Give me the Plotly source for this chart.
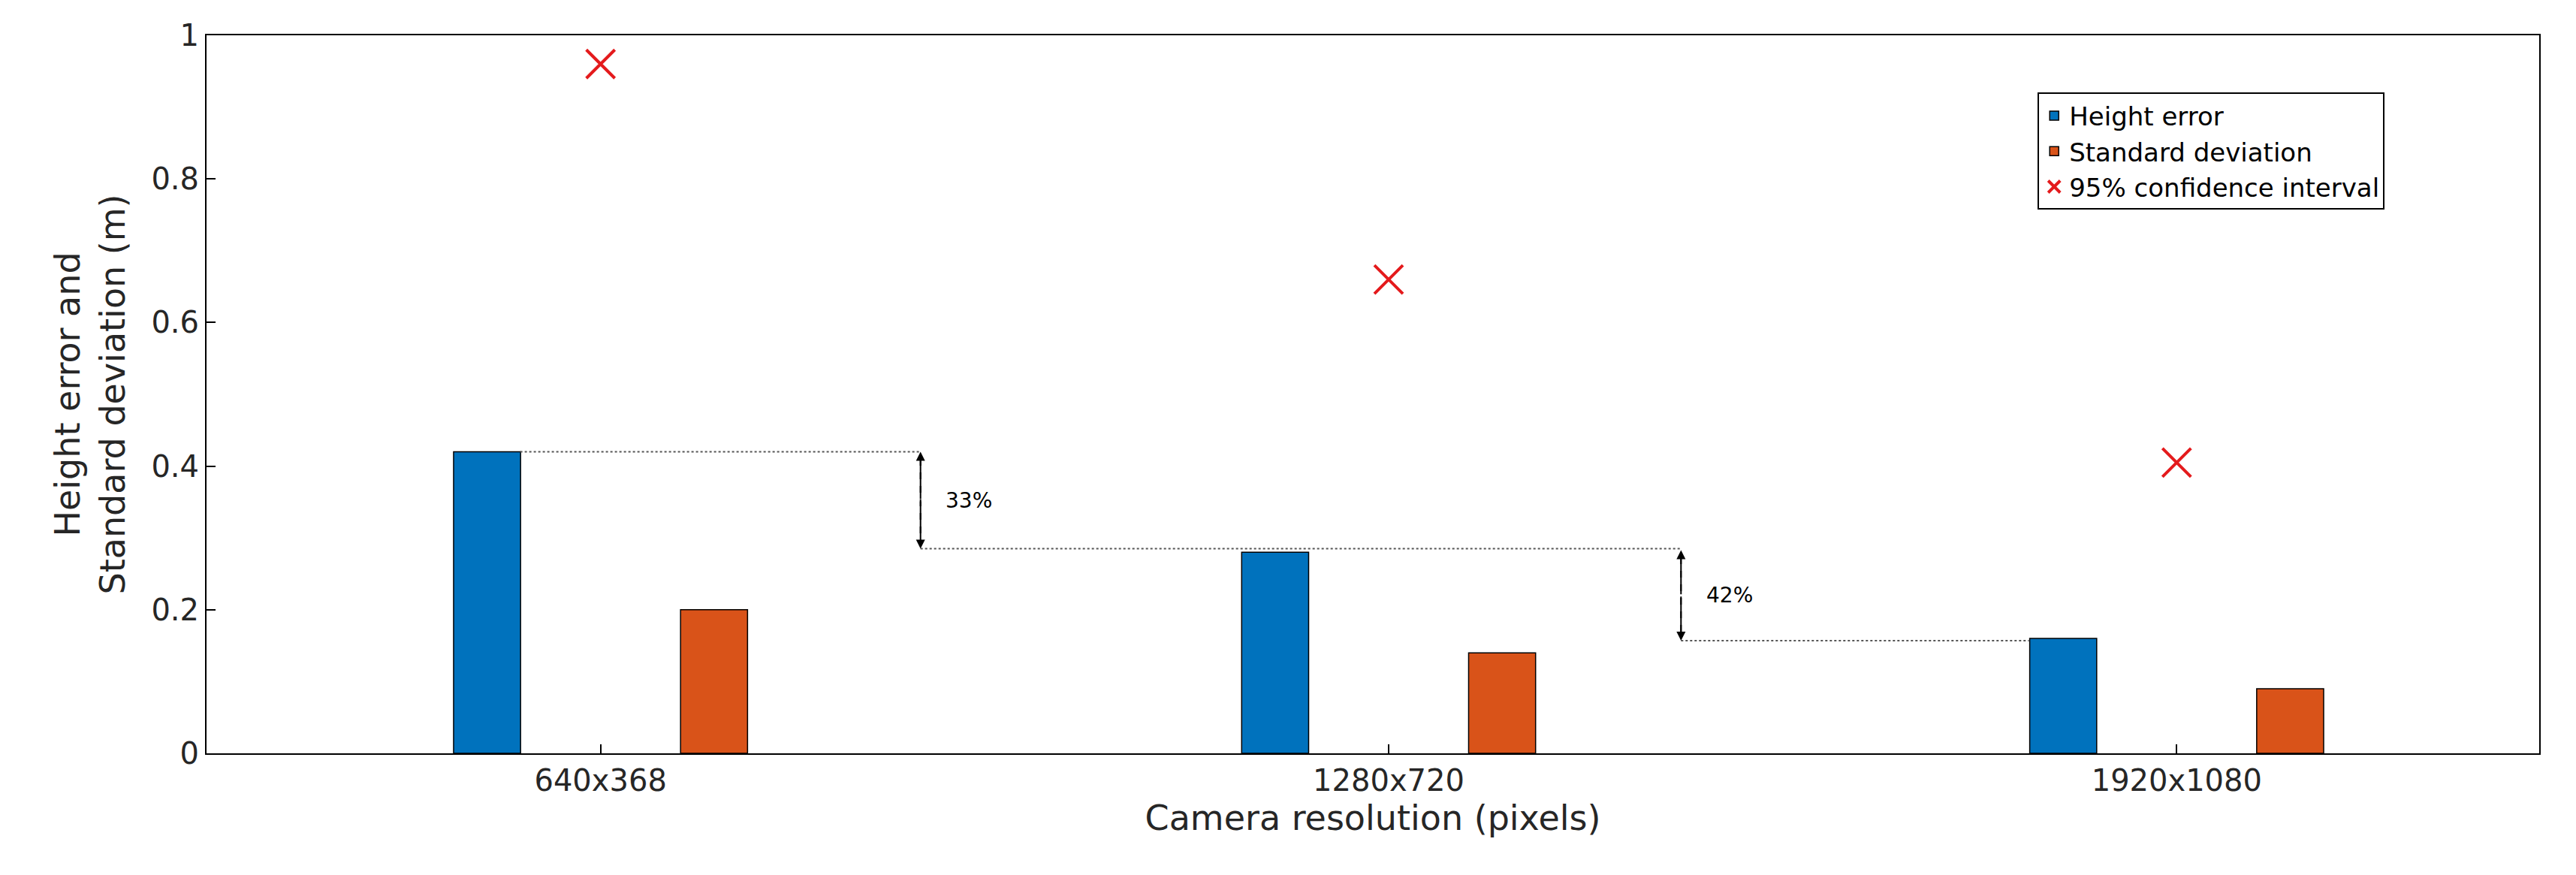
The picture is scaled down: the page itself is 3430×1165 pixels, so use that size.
import plotly.graph_objects as go

categories = ["640x368", "1280x720", "1920x1080"]
xpos = [1, 2, 3]
height_error = [0.42, 0.28, 0.16]
std_dev = [0.20, 0.14, 0.09]
ci95 = [0.96, 0.66, 0.405]
reductions = ["33%", "42%"]

fig = go.Figure()
fig.add_bar(x=xpos, y=height_error, name="Height error", width=0.085, offset=-0.1865,
            marker=dict(color="#0072BD", line=dict(color="black", width=1.5)))
fig.add_bar(x=xpos, y=std_dev, name="Standard deviation", width=0.085, offset=0.1015,
            marker=dict(color="#D95319", line=dict(color="black", width=1.5)))
fig.add_scatter(x=xpos, y=ci95, mode="markers", name="95% confidence interval",
                marker=dict(symbol="x-thin-open", size=38, color="#E41A1C",
                            line=dict(color="#E41A1C", width=4)))

# annotation guide lines
dot = dict(color="#555", width=2, dash="dot")
fig.add_shape(type="line", x0=0.898, x1=1.406, y0=height_error[0], y1=height_error[0], line=dot)
fig.add_shape(type="line", x0=1.406, x1=2.371, y0=0.285, y1=0.285, line=dot)
fig.add_shape(type="line", x0=2.371, x1=2.8125, y0=0.157, y1=0.157, line=dot)
arrows = [(1.406, height_error[0], 0.285, reductions[0]), (2.371, 0.283, 0.157, reductions[1])]
for xa, y0, y1, lab in arrows:
    fig.add_shape(type="line", x0=xa, x1=xa, y0=y0 - 0.01, y1=y1 + 0.01,
                  line=dict(color="black", width=2, dash="dash"))
    for ya, yb in [(y0, (y0 + y1) / 2), (y1, (y0 + y1) / 2)]:
        fig.add_annotation(x=xa, y=ya, ax=xa, ay=yb, axref="x", ayref="y", xref="x", yref="y",
                           showarrow=True, arrowhead=2, arrowsize=1.2, arrowwidth=2,
                           arrowcolor="black", text="")
    fig.add_annotation(x=xa + 0.03, y=(y0 + y1) / 2, text=lab, showarrow=False,
                       xanchor="left", font=dict(size=28, color="black"))

axis_common = dict(showline=True, linecolor="black", linewidth=2, mirror=True,
                   ticks="inside", ticklen=12, tickwidth=2, tickcolor="black",
                   showgrid=False, zeroline=False, tickfont=dict(size=40, color="#262626"))
fig.update_xaxes(range=[0.5, 3.46], tickvals=xpos, ticktext=categories,
                 title=dict(text="Camera resolution (pixels)", font=dict(size=46, color="#262626"), standoff=10),
                 **axis_common)
fig.update_yaxes(range=[0, 1], tickvals=[0, 0.2, 0.4, 0.6, 0.8, 1], ticktext=["0", "0.2", "0.4", "0.6", "0.8", "1"],
                 title=dict(text="Height error and<br>Standard deviation (m)", font=dict(size=46, color="#262626"), standoff=20),
                 **axis_common)
fig.update_layout(
    width=3430, height=1165, barmode="overlay",
    margin=dict(l=267, r=57, t=39, b=170),
    plot_bgcolor="white", paper_bgcolor="white",
    font=dict(family="DejaVu Sans", color="#262626"),
    legend=dict(x=0.785, y=0.92, xanchor="left", yanchor="top",
                bordercolor="black", borderwidth=2, bgcolor="white",
                font=dict(size=34, color="black"), tracegroupgap=0),
)
fig.write_html("out.html")
